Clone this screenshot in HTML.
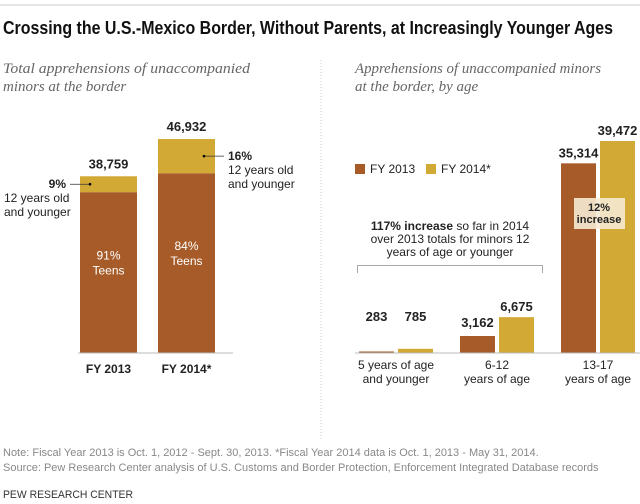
<!DOCTYPE html>
<html><head><meta charset="utf-8"><style>
body{margin:0;background:#fff;width:640px;height:504px;overflow:hidden}
svg{display:block;font-family:"Liberation Sans",sans-serif}
.ser{font-family:"Liberation Serif",serif;font-style:italic;fill:#666;font-size:15px}
.lbl{font-size:12px;fill:#222}
.b{font-weight:bold}
.note{font-size:11px;fill:#888}
</style></head><body>
<svg id="c" width="640" height="504">
<line x1="0" y1="5" x2="640" y2="5" stroke="#ccc"/>
<text x="3" y="34" font-size="18" font-weight="bold" fill="#111" textLength="610" lengthAdjust="spacingAndGlyphs">Crossing the U.S.-Mexico Border, Without Parents, at Increasingly Younger Ages</text>
<text class="ser" x="3" y="73" textLength="247" lengthAdjust="spacingAndGlyphs">Total apprehensions of unaccompanied</text>
<text class="ser" x="3" y="91">minors at the border</text>
<text class="ser" x="355" y="73" textLength="246" lengthAdjust="spacingAndGlyphs">Apprehensions of unaccompanied minors</text>
<text class="ser" x="355" y="91">at the border, by age</text>
<line x1="321" y1="60" x2="321" y2="440" stroke="#ccc" stroke-dasharray="1,2"/>
<g id="left"></g><g id="right"></g>
<text class="note" x="3" y="456">Note: Fiscal Year 2013 is Oct. 1, 2012 - Sept. 30, 2013. *Fiscal Year 2014 data is Oct. 1, 2013 - May 31, 2014.</text>
<text class="note" x="3" y="471">Source: Pew Research Center analysis of U.S. Customs and Border Protection, Enforcement Integrated Database records</text>
<text x="3" y="498" font-size="11" fill="#333" textLength="130" lengthAdjust="spacingAndGlyphs">PEW RESEARCH CENTER</text>
</svg>
<script>
const years=["FY 2013","FY 2014*"];
const totals=[38759,46932];
const youngShare=[9,16];
const ageGroups=["5 years of age|and younger","6-12|years of age","13-17|years of age"];
const fy2013=[283,3162,35314];
const fy2014=[785,6675,39472];
const NS="http://www.w3.org/2000/svg";
const C1="#a65b28",C2="#d2a935";
function el(p,t,a,txt){const e=document.createElementNS(NS,t);for(const k in a)e.setAttribute(k,a[k]);if(txt!=null)e.textContent=txt;p.appendChild(e);return e;}
const base=353;
const L=document.getElementById('left');
const yL=v=>base-v*214/46932;
const lx=[80,158],bw=57;
totals.forEach((t,i)=>{
 const young=t*youngShare[i]/100, x=lx[i];
 const r1=el(L,'rect',{x:x,y:yL(t-young),width:bw,height:base-yL(t-young),fill:C1});
 
 
 const r2=el(L,'rect',{x:x,y:yL(t),width:bw,height:yL(t-young)-yL(t),fill:C2});
 
 
 const tl=el(L,'text',{x:x+bw/2,y:yL(t)-8,'text-anchor':'middle','font-size':13,'font-weight':'bold',fill:'#222'},t.toLocaleString('en-US'));
 
 
 const ym=(base+yL(t-young))/2;
 const p=el(L,'text',{x:x+bw/2,y:ym-13,'text-anchor':'middle','font-size':12,fill:'#fff'},(100-youngShare[i])+'%');
 
 
 const p2=el(L,'text',{x:x+bw/2,y:ym+2,'text-anchor':'middle','font-size':12,fill:'#fff'},'Teens');
 
 
 const xl=el(L,'text',{x:x+bw/2,y:base+20,'text-anchor':'middle','font-size':12,'font-weight':'bold',fill:'#222'},years[i]);
 
 
 const dy=(yL(t)+yL(t-young))/2;
 const lg=el(L,'g',{});
 
 
 if(i==0){
  el(lg,'line',{x1:70,y1:dy,x2:x+10,y2:dy,stroke:'#333','stroke-width':0.7});
  el(lg,'circle',{cx:x+10,cy:dy,r:1.3,fill:'#000'});
  el(lg,'text',{x:66,y:dy+4,'text-anchor':'end','font-size':12,'font-weight':'bold',fill:'#222'},youngShare[i]+'%');
  el(lg,'text',{x:4,y:dy+18,class:'lbl'},'12 years old');
  el(lg,'text',{x:4,y:dy+32,class:'lbl'},'and younger');
 }else{
  el(lg,'line',{x1:x+46,y1:dy,x2:x+66,y2:dy,stroke:'#333','stroke-width':0.7});
  el(lg,'circle',{cx:x+46,cy:dy,r:1.3,fill:'#000'});
  el(lg,'text',{x:x+70,y:dy+4,'font-size':12,'font-weight':'bold',fill:'#222'},youngShare[i]+'%');
  el(lg,'text',{x:x+70,y:dy+18,class:'lbl'},'12 years old');
  el(lg,'text',{x:x+70,y:dy+32,class:'lbl'},'and younger');
 }
});
el(L,'line',{x1:78,y1:base,x2:233,y2:base,stroke:'#bbb'});
const R=document.getElementById('right');
const yR=v=>base-v*212/39472;
const gx=[359,460,561],rbw=35;
ageGroups.forEach((g,i)=>{
 [[fy2013,C1,0],[fy2014,C2,39]].forEach(([arr,col,off],s)=>{
  const v=arr[i],x=gx[i]+off;
  const r=el(R,'rect',{x:x,y:yR(v),width:rbw,height:base-yR(v),fill:col});
  
  
  const t=el(R,'text',{x:x+rbw/2,y:Math.min(yR(v),base-20)-(i==0?12:6),'text-anchor':'middle','font-size':13,'font-weight':'bold',fill:'#222'},v.toLocaleString('en-US'));
  
  
 });
 const parts=g.split('|');
 parts.forEach((p,k)=>{
  const t=el(R,'text',{x:gx[i]+37,y:base+16+k*14,'text-anchor':'middle',class:'lbl'},p);
  
  
 });
});
el(R,'line',{x1:355,y1:base,x2:640,y2:base,stroke:'#bbb'});
const lgd=el(R,'g',{});


el(lgd,'rect',{x:355,y:164,width:10,height:10,fill:C1});
el(lgd,'text',{x:370,y:173,class:'lbl'},'FY 2013');
el(lgd,'rect',{x:426,y:164,width:10,height:10,fill:C2});
el(lgd,'text',{x:441,y:173,class:'lbl'},'FY 2014*');
const an=el(R,'g',{});


const t1=el(an,'text',{x:450,y:230,'text-anchor':'middle',class:'lbl','font-size':11});
el(t1,'tspan',{'font-weight':'bold'},'117% increase');el(t1,'tspan',{},' so far in 2014');
el(an,'text',{x:450,y:243,'text-anchor':'middle',class:'lbl','font-size':11},'over 2013 totals for minors 12');
el(an,'text',{x:450,y:256,'text-anchor':'middle',class:'lbl','font-size':11},'years of age or younger');
el(an,'path',{d:'M357.5,273 V265.5 H542.5 V273',fill:'none',stroke:'#aaa'});
const bx=el(R,'g',{});


el(bx,'rect',{x:574,y:198,width:51,height:31,fill:'#f5ead3','fill-opacity':0.9});
el(bx,'text',{x:599,y:211,'text-anchor':'middle','font-size':11,'font-weight':'bold',fill:'#222'},'12%');
el(bx,'text',{x:599,y:223,'text-anchor':'middle','font-size':11,'font-weight':'bold',fill:'#222'},'increase');
</script>
</body></html>
